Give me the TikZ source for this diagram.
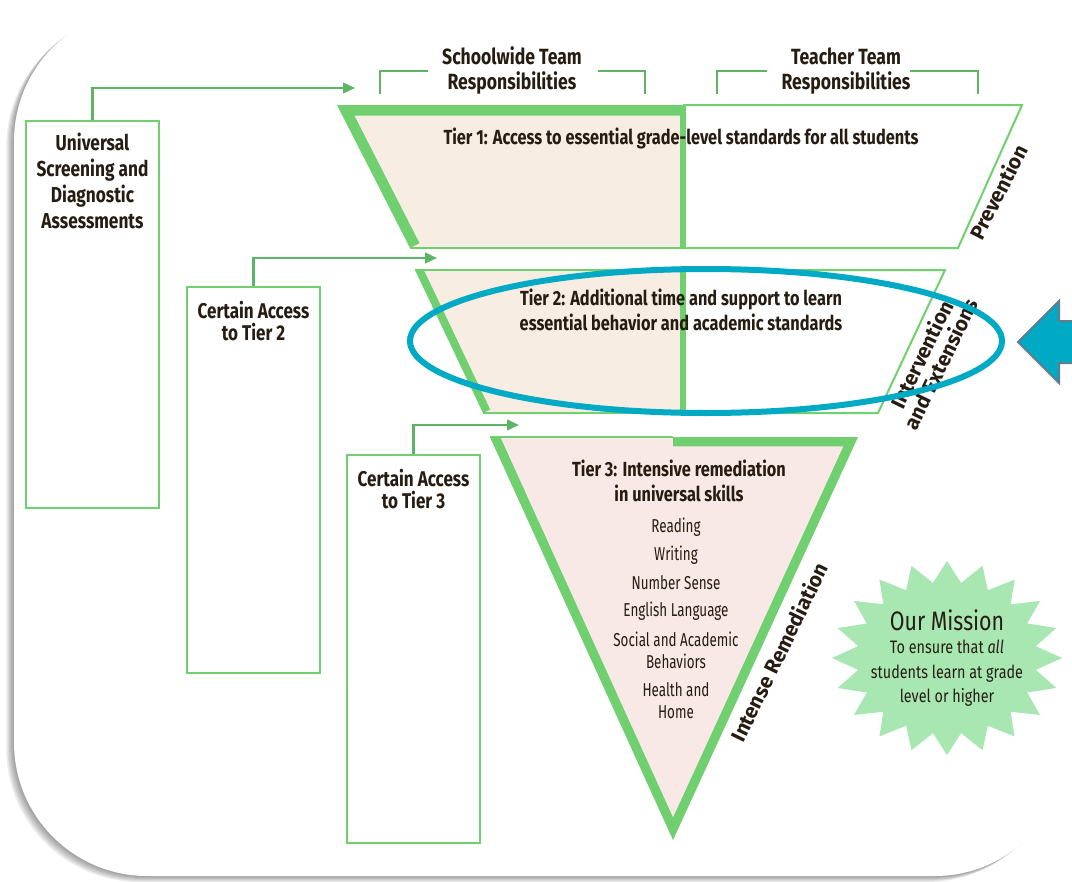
\documentclass[tikz,border=0pt]{standalone}
\usepackage{fontspec}
\setmainfont{Fira Sans}[FakeStretch=0.8]
\newfontfamily\labfont{Fira Sans}
\newfontfamily\itemfont{Fira Sans}[FakeStretch=0.72]
\usetikzlibrary{arrows.meta}
\definecolor{gb}{RGB}{112,208,112}
\definecolor{gc}{RGB}{92,180,100}
\definecolor{beige}{RGB}{248,237,226}
\definecolor{pinkf}{RGB}{249,233,230}
\definecolor{tealc}{RGB}{0,169,196}
\definecolor{arrowedge}{RGB}{95,125,140}
\definecolor{starf}{RGB}{168,231,178}
\definecolor{txt}{RGB}{38,28,18}
\begin{document}
\begin{tikzpicture}[x=0.75pt,y=-0.75pt,
  box/.style={draw=gb, line width=1.5pt, fill=white, minimum width=99.75pt, inner sep=0pt},
  boxtext/.style={align=center, font=\fontsize{16}{16.5}\selectfont\bfseries, text=txt, inner sep=0pt},
  hdr/.style={align=center, font=\fontsize{16.5}{18.75}\selectfont\bfseries, text=txt, inner sep=0pt},
  tiertxt/.style={align=center, font=\fontsize{15.3}{18.75}\selectfont\bfseries, text=txt, inner sep=0pt},
  item/.style={align=center, font=\itemfont\fontsize{14}{16.5}\selectfont, text=txt, inner sep=0pt},
  rotlab/.style={align=center, font=\labfont\fontsize{15.5}{16}\selectfont\bfseries, text=txt, inner sep=0pt},
  conn/.style={draw=gc, line width=1.8pt, -{Triangle[length=9pt,width=8pt]}},
  brk/.style={draw=gc, line width=1.5pt},
  thin/.style={draw=gb, line width=1.5pt}
]
\useasboundingbox (0,0) rectangle (1072,882);
% frame with shadow
\foreach \k in {1,...,6}
  \fill[black, opacity=0.07, rounded corners=100pt] ({14-1.3*\k},{8+1.0*\k}) rectangle ({1068-1.3*\k},{876+1.0*\k});
\fill[white, rounded corners=100pt] (14,8) rectangle (1068,876);

% headers
\node[hdr] (hsw) at (512,71) {Schoolwide Team\\Responsibilities};
\node[hdr] (htt) at (846,71) {Teacher Team\\Responsibilities};
\draw[brk] (380,94) |- (428,71);
\draw[brk] (598,71) -| (645,94);
\draw[brk] (717,94) |- (767,71);
\draw[brk] (910,71) -| (978,94);

% Tier 1
\begin{scope}
\clip (337,105) -- (683,105) -- (683,248) -- (410,248) -- cycle;
\fill[beige] (337,105) -- (683,105) -- (683,248) -- (410,248) -- cycle;
\draw[gb, line width=16pt] (410,248) -- (337,105) -- (683,105);
\end{scope}
\draw[thin] (410,248) -- (683,248);
\filldraw[fill=white, thin] (683,105) -- (1022,105) -- (958,248) -- (683,248);
\draw[gb, line width=5pt] (683,105) -- (683,248);

% Tier 2
\begin{scope}
\clip (415,270) -- (683,270) -- (683,413) -- (483,413) -- cycle;
\fill[beige] (415,270) -- (683,270) -- (683,413) -- (483,413) -- cycle;
\draw[gb, line width=12pt] (483,413) -- (415,270);
\end{scope}
\draw[thin] (415,270) -- (683,270);
\draw[thin] (483,413) -- (683,413);
\filldraw[fill=white, thin] (683,270) -- (945,270) -- (878,413) -- (683,413);
\draw[gb, line width=5pt] (683,270) -- (683,413);

% Tier 3
\begin{scope}
\clip (490,437) -- (858,437) -- (673,840) -- cycle;
\fill[pinkf] (490,437) -- (858,437) -- (673,840) -- cycle;
\draw[gb, line width=14pt] (673,437) -- (858,437) -- (673,840) -- (490,437);
\end{scope}
\draw[thin] (490,437) -- (673,437);

% tier texts
\node[tiertxt] (t1) at (681,138) {Tier 1: Access to essential grade-level standards for all students};
\node[tiertxt] (t2) at (681,310) {Tier 2: Additional time and support to learn\\essential behavior and academic standards};
\node[tiertxt] (t3) at (679,481) {Tier 3: Intensive remediation\\in universal skills};
\node[item] (i1) at (676,527) {Reading};
\node[item] (i2) at (676,555) {Writing};
\node[item] (i3) at (676,583) {Number Sense};
\node[item] (i4) at (676,611) {English Language};
\node[item] (i5) at (676,650) {Social and Academic\\Behaviors};
\node[item] (i6) at (676,701) {Health and\\Home};

% side labels
\node[rotlab, rotate=63] (prev) at (998,192) {Prevention};
\node[rotlab, rotate=64] (intv) at (931,359) {Intervention\\and Extensions};
\node[rotlab, rotate=64] (intr) at (779,652) {Intense Remediation};

% boxes
\node[box, minimum height=290pt] (univ) at (92.5,314.5) {};
\node[boxtext, font=\fontsize{16.2}{19.5}\selectfont\bfseries] (univT) at (92.5,181) {Universal\\Screening and\\Diagnostic\\Assessments};
\node[box, minimum height=289.5pt] (acc2) at (253.5,480) {};
\node[boxtext] (acc2T) at (253.5,321) {Certain Access\\to Tier 2};
\node[box, minimum height=291pt] (acc3) at (413.5,649) {};
\node[boxtext] (acc3T) at (413.5,489) {Certain Access\\to Tier 3};

\coordinate (t1in) at (355,88);
\coordinate (t2in) at (437,258);
\coordinate (t3in) at (519,425);
\draw[conn] (univ.north) |- (t1in);
\draw[conn] (acc2.north) |- (t2in);
\draw[conn] (acc3.north) |- (t3in);

% star
\fill[starf] ({947+115*cos(0)},{658+97*sin(0)})
  \foreach \i in {0,...,19} { -- ({947+90*cos(\i*18+9)},{658+76*sin(\i*18+9)}) -- ({947+115*cos(\i*18+18)},{658+97*sin(\i*18+18)}) } -- cycle;
\node[align=center, text=txt, inner sep=0pt, font=\fontsize{13.5}{18.5}\selectfont] (mission) at (947,658)
  {{\fontsize{20}{22}\selectfont Our Mission}\\[-1pt]
   To ensure that \textit{all}\\students learn at grade\\level or higher};

% ellipse highlight
\draw[tealc, line width=4.5pt] (706,341) ellipse [x radius=296, y radius=72];

% pointer arrow
\fill[tealc] (1072,321) -- (1059,321) -- (1059,301) -- (1018,342) -- (1059,383) -- (1059,363) -- (1072,363) -- cycle;
\draw[arrowedge, line width=1.5pt, line join=miter] (1072,321) -- (1059,321) -- (1059,301) -- (1018,342) -- (1059,383) -- (1059,363) -- (1072,363);
\end{tikzpicture}
\end{document}
